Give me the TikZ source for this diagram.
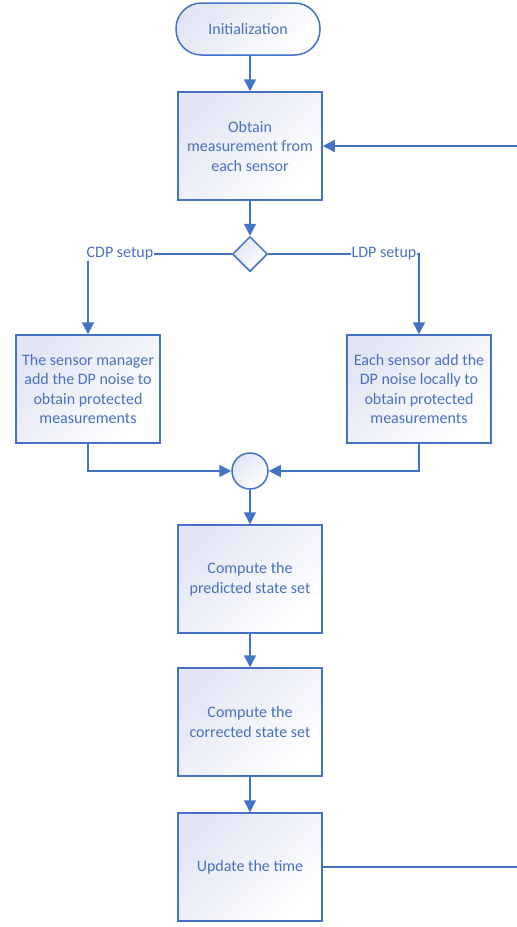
\documentclass[tikz,border=0pt]{standalone}
\usepackage{fontspec}
\setmainfont{Carlito}
\usetikzlibrary{shapes.geometric,arrows.meta}
\definecolor{lineblue}{HTML}{4472C4}
\definecolor{textblue}{HTML}{4A72C0}
\definecolor{shadeblue}{HTML}{E2E5F4}
\tikzset{
  basefont/.style={text=textblue, font=\fontsize{16}{19.5}\selectfont},
  procbox/.style={basefont, draw=lineblue, line width=1.5pt, top color=shadeblue, bottom color=white, shading angle=45,
    minimum width=144pt, minimum height=108pt, inner sep=0pt, align=center},
  termbox/.style={basefont, draw=lineblue, line width=1.5pt, top color=shadeblue, bottom color=white, shading angle=45,
    rectangle, rounded corners=25.5pt, minimum width=144pt, minimum height=52pt, inner sep=0pt},
  decbox/.style={draw=lineblue, line width=1.5pt, top color=shadeblue, bottom color=white, shading angle=45,
    diamond, aspect=1, minimum width=35pt, minimum height=35pt, inner sep=0pt},
  joinbox/.style={draw=lineblue, line width=1.5pt, top color=shadeblue, bottom color=white, shading angle=45,
    circle, minimum size=36pt, inner sep=0pt},
  conn/.style={draw=lineblue, line width=1.5pt},
  arr/.style={conn, -{Triangle[length=12pt,width=12pt]}},
  lbl/.style={basefont, fill=white, inner sep=1pt},
}
\begin{document}
\begin{tikzpicture}[x=1pt,y=-1pt]
\useasboundingbox (0,0) rectangle (517,927);
\node[termbox] (init) at (248,29) {Initialization};
\node[procbox] (obtain) at (250,146) {Obtain\\measurement from\\each sensor};
\node[decbox] (dia) at (250,254) {};
\node[procbox] (left) at (88,389) {The sensor manager\\add the DP noise to\\obtain protected\\measurements};
\node[procbox] (right) at (419,389) {Each sensor add the\\DP noise locally to\\obtain protected\\measurements};
\node[joinbox] (circ) at (250,471) {};
\node[procbox] (pred) at (250,579) {Compute the\\predicted state set};
\node[procbox] (corr) at (250,722) {Compute the\\corrected state set};
\node[procbox] (upd) at (250,867) {Update the time};
\coordinate (rightin) at (517,146);
\coordinate (rightout) at (517,867);

\draw[arr] (init.south -| obtain.north) -- (obtain.north);
\draw[arr] (rightin) -- (obtain.east);
\draw[arr] (obtain) -- (dia);
\draw[arr] (dia.west) -| (left.north);
\draw[arr] (dia.east) -| (right.north);
\draw[arr] (left.south) |- (circ.west);
\draw[arr] (right.south) |- (circ.east);
\draw[arr] (circ) -- (pred);
\draw[arr] (pred) -- (corr);
\draw[arr] (corr) -- (upd);
\draw[conn] (upd.east) -- (rightout);

\node[lbl] (cdp) at (120,254) {CDP setup};
\node[lbl] (ldp) at (384,254) {LDP setup};
\end{tikzpicture}
\end{document}
